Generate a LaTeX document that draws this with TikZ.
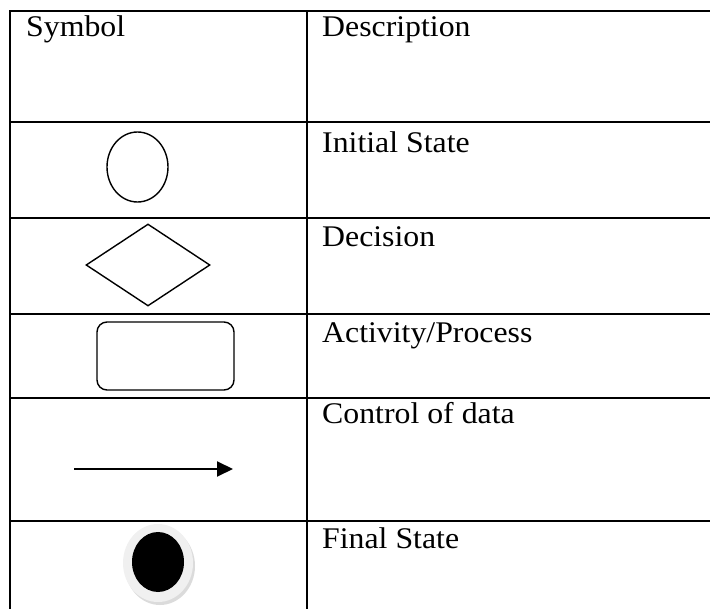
\documentclass[tikz,border=0pt]{standalone}
\usepackage{fontspec}
\setmainfont[FakeStretch=1.06]{Liberation Serif}
\usetikzlibrary{shapes.geometric,arrows.meta,positioning,shadows}

\tikzset{
  rule/.style={line width=2.8pt,line cap=rect},
  symb/.style={draw,line width=1.4pt,inner sep=0pt},
  desc/.style={anchor=base west,inner sep=0pt,font=\fontsize{30}{35}\selectfont},
}

\begin{document}
\begin{tikzpicture}[x=1pt,y=-1pt]
  \useasboundingbox (0,0) rectangle (710,609);
  % table rules
  \foreach \ry in {11,122,218,314,398,521}
    \draw[rule] (10,\ry) -- (712,\ry);
  \draw[rule] (10,11) -- (10,612);
  \draw[rule] (307,11) -- (307,612);

  % header row
  \node[desc] (hsym) at (26,37) {Symbol};
  \node[desc] (hdesc) at (322,37) {Description};

  % descriptions
  \node[desc] (dinit) at (322,153) {Initial State};
  \node[desc] (ddec) at (322,247) {Decision};
  \node[desc] (dact) at (322,343) {Activity/Process};
  \node[desc] (dctl) at (322,424) {Control of data};
  \node[desc] (dfin) at (322,548) {Final State};

  % symbols
  \node[symb,ellipse,minimum width=61pt,minimum height=70pt] (init) at (137.5,167) {};
  \node[symb,diamond,minimum width=124pt,minimum height=82pt] (dec) at (148,265) {};
  \node[symb,rectangle,rounded corners=10pt,minimum width=137pt,minimum height=68pt] (act) at (165.5,356) {};
  \coordinate (ctl-a) at (74,469);
  \coordinate (ctl-b) at (233,469);
  \draw[line width=2pt,-{Triangle[length=16pt,width=15pt]}] (ctl-a) -- (ctl-b);
  \node[ellipse,fill=black!6,inner sep=0pt,minimum width=70pt,minimum height=78pt,
        drop shadow={shadow xshift=2pt,shadow yshift=-3pt,fill=black!28}] (fin) at (158,563) {};
  \node[ellipse,fill=black,inner sep=0pt,minimum width=52pt,minimum height=60pt] (fincore) at (158,562) {};
\end{tikzpicture}
\end{document}
